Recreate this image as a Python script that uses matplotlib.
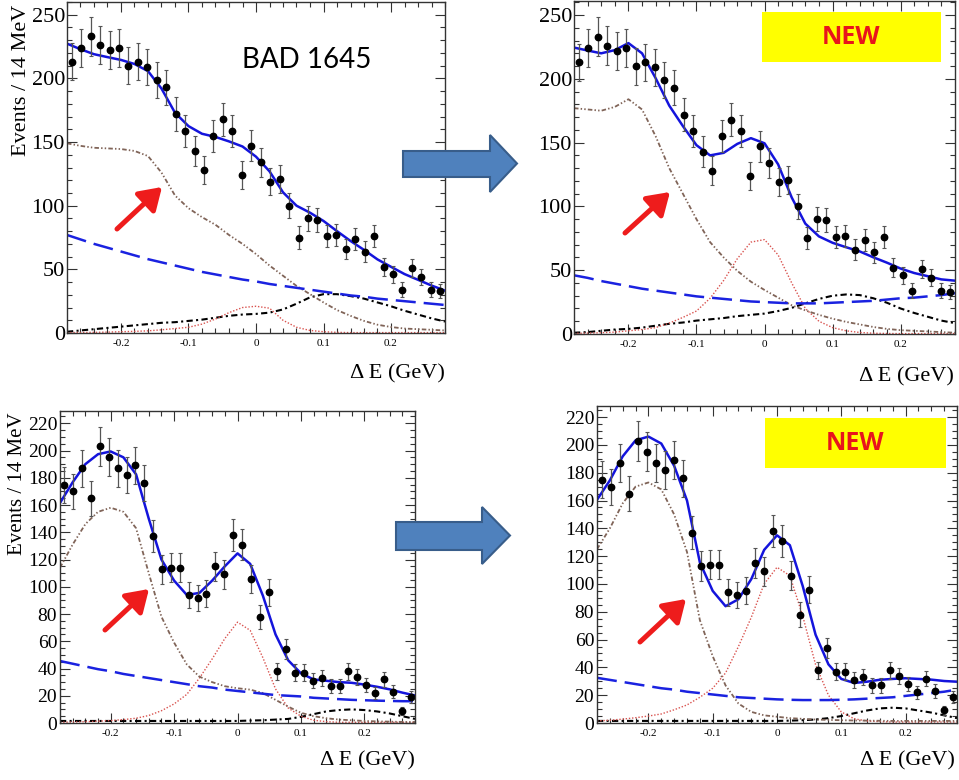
"""Delta E fit comparison: old vs new fit for the top and bottom samples."""

import matplotlib
matplotlib.use("Agg")
import matplotlib.pyplot as plt
import numpy as np
from matplotlib.patches import Polygon, Rectangle
from matplotlib.ticker import FuncFormatter, MultipleLocator

# --- data -------------------------------------------------------------------
# 40 bins of 14 MeV between -0.28 and 0.28 GeV
bin_centers = np.arange(-0.273, 0.28, 0.014)
# fit components are read every 20 MeV
curve_x = np.linspace(-0.28, 0.28, 29)

top_counts = [213, 224, 233, 226, 222, 224, 210, 213, 209, 199, 193, 172, 159, 143,
              128, 155, 168, 159, 124, 147, 134, 119, 121, 100, 75, 90, 89, 76, 77,
              66, 74, 64, 76, 52, 46, 34, 51, 44, 34, 33]
bottom_counts = [175, 170, 187, 165, 203, 195, 187, 182, 189, 176, 137, 113, 114, 114,
                 94, 92, 95, 115, 109, 138, 131, 106, 78, 96, 38, 54, 37, 37, 31, 33,
                 27, 27, 38, 34, 28, 22, 32, 23, 9, 19]

# top-left (BAD 1645)
tl_continuum = [77, 73.5, 70, 67, 64, 61, 58, 55.5, 53, 50.5, 48, 46, 44, 42, 40.5, 38.5,
                37, 35.5, 34, 32.5, 31, 29.5, 28.5, 27, 26, 25, 24, 23, 22]
tl_feed = [149, 147, 145.5, 145, 144.5, 143, 139, 126, 108, 98, 91, 85, 77, 70, 62, 53,
           45, 37, 30.5, 24, 18, 13.5, 9.5, 6.5, 4.7, 3.5, 3, 2.5, 2]
tl_signal = [0.3, 0.4, 0.5, 0.7, 1, 1.3, 1.7, 2.5, 3.5, 4.5, 7, 11, 16, 20, 21, 19.5, 10,
             4.5, 2, 1, 0.5, 0.3, 0.3, 0.3, 0.3, 0.3, 0.3, 0.3, 0.3]
tl_other = [1, 2, 3, 4, 5, 6, 7, 8, 8.5, 9.5, 10.5, 12, 13.5, 14.5, 15, 16, 18.5, 23, 28,
            30.5, 30.5, 29, 27, 24, 21, 17.5, 14.5, 11.5, 9]

# top-right (new)
tr_continuum = [46, 44, 41.5, 39.5, 37.5, 35.5, 34, 32.5, 31, 29.5, 28.5, 27.5, 26.5,
                25.5, 25, 24.5, 24, 24, 24, 24.5, 25, 25.5, 26, 27, 28, 28.5, 29.5, 30.5, 32]
tr_feed = [177, 176, 175, 178, 184, 176, 155, 130, 110, 90, 72, 60, 49.5, 41, 34.5, 28.5,
           22.5, 18.5, 15, 12, 9.5, 7.5, 5.5, 4, 3, 2.5, 2, 1.5, 1]
tr_signal = [0.5, 0.7, 1, 1.5, 2.5, 3.5, 5, 8.5, 13, 18, 28, 42, 59, 72, 74, 62, 40, 20,
             10, 5, 2.5, 1.2, 0.6, 0.4, 0.3, 0.3, 0.3, 0.3, 0.3]
tr_other = [1, 1.5, 2.5, 3.5, 4, 5, 6.5, 8, 9, 10.5, 11.5, 12.5, 14, 15, 16, 18, 20.5, 24,
            27.5, 30, 31, 30.5, 28, 24.5, 20, 16.5, 13.5, 10.5, 8.5]

# bottom-left
bl_continuum = [45.5, 43.5, 41.5, 39.5, 38, 36, 34.5, 33, 31.5, 30, 28.5, 27, 26, 24.5,
                23.5, 22.5, 21.5, 20.5, 20, 19.5, 18.5, 18, 17.5, 17, 16.7, 16.4, 16.2, 16, 16]
bl_feed = [114, 131, 146, 155, 158, 155, 143, 110, 78, 59, 43, 34, 30, 27, 25.5, 24.5,
           22, 17, 12, 7.5, 5, 3.5, 2.5, 2, 1.5, 1.2, 1, 0.8, 0.7]
bl_signal = [0.5, 0.7, 1, 1.3, 1.8, 2.5, 3.5, 5.5, 9, 14, 21, 33, 47, 62, 74, 68, 48, 25,
             11, 5, 2, 1, 0.5, 0.5, 0.5, 0.5, 0.5, 0.5, 0.5]
bl_other = [1.5, 1.5, 1.5, 1.5, 1.5, 1.5, 1.5, 1.5, 1.5, 1.5, 1.5, 1.5, 1.5, 1.5, 1.5,
            1.8, 2, 2.5, 3, 4.5, 6.5, 8.5, 9.5, 10, 9.5, 8.5, 7, 5, 3]

# bottom-right (new)
br_continuum = [32.5, 31, 29.5, 28, 26.5, 25, 24, 22.5, 21.5, 20.5, 19.5, 18.5, 18, 17.5,
                17, 16.7, 16.5, 16.5, 16.5, 16.7, 17, 17.5, 18, 18.5, 19.5, 20.5, 21.5, 22.5, 24]
br_feed = [125, 140, 158, 170, 173, 168, 150, 123, 74, 48, 27, 14, 8, 5.5, 4.5, 3.5, 3,
           2.5, 2.2, 2, 1.8, 1.7, 1.6, 1.5, 1.5, 1.5, 1.5, 1.5, 1.5]
br_signal = [1.5, 2, 2.8, 3.8, 5, 6.5, 9.5, 13, 18.5, 25, 36, 55, 76, 100, 112, 106, 77,
             42, 20, 8, 3, 1.5, 1, 0.7, 0.7, 0.7, 0.7, 0.7, 0.7]
br_other = [1.5, 1.5, 1.5, 1.5, 1.5, 1.5, 1.5, 1.5, 1.5, 1.5, 1.5, 1.5, 1.5, 1.5, 1.5,
            1.7, 2, 2.5, 3.5, 5, 7, 9, 10.5, 11, 10.5, 9, 7.5, 5.5, 3.5]

# --- style ------------------------------------------------------------------
W, H = 959, 780
SERIF = ["Liberation Serif", "DejaVu Serif"]
plt.rcParams.update({"axes.unicode_minus": False, "font.family": SERIF})

fig = plt.figure(figsize=(W / 100, H / 100), dpi=100, facecolor="white")


def px_axes(left, top, right, bottom):
    return fig.add_axes([left / W, 1 - bottom / H, (right - left) / W, (bottom - top) / H])


def draw_panel(ax, counts, cont, feed, sig, other, ymax, ymajor, yminor, ylab_size, ypad):
    cont, feed, sig, other = map(np.asarray, (cont, feed, sig, other))
    total = cont + feed + sig + other
    ax.plot(curve_x, other, color="black", lw=1.5, dashes=(3, 1.6, 1, 1.6))
    ax.plot(curve_x, sig, color="#d9534f", lw=1.0, dashes=(1, 1.3))
    ax.plot(curve_x, feed, color="#806458", lw=1.3, dashes=(2.5, 1.2, 0.8, 1.2, 0.8, 1.2))
    ax.plot(curve_x, cont, color="#1a22e0", lw=1.8, dashes=(8, 3.2))
    ax.plot(curve_x, total, color="#1414dc", lw=1.8)
    counts = np.asarray(counts, dtype=float)
    ax.errorbar(bin_centers, counts, yerr=np.sqrt(counts), fmt="o", color="black",
                ms=4.6, ecolor="#555555", elinewidth=0.9, capsize=1.2, capthick=0.8)
    ax.set_xlim(-0.28, 0.28)
    ax.set_ylim(0, ymax)
    ax.xaxis.set_major_locator(MultipleLocator(0.1))
    ax.xaxis.set_minor_locator(MultipleLocator(0.02))
    ax.yaxis.set_major_locator(MultipleLocator(ymajor))
    ax.yaxis.set_minor_locator(MultipleLocator(yminor))
    ax.xaxis.set_major_formatter(FuncFormatter(lambda v, _: f"{round(v, 2):g}"))
    ax.tick_params(which="both", direction="in", top=True, right=True, color="#333333", width=0.8)
    ax.tick_params(which="major", length=7)
    ax.tick_params(which="minor", length=3.5)
    ax.tick_params(axis="x", labelsize=8, pad=4)
    ax.tick_params(axis="y", labelsize=ylab_size, pad=ypad)
    for lab in ax.get_xticklabels() + ax.get_yticklabels():
        lab.set_family(SERIF)
    for s in ax.spines.values():
        s.set_color("#333333")
        s.set_linewidth(1.0)


ax1 = px_axes(67, 2, 445, 333)
draw_panel(ax1, top_counts, tl_continuum, tl_feed, tl_signal, tl_other, 260, 50, 10, 16, 1.5)
ax2 = px_axes(574, 1, 955, 334)
draw_panel(ax2, top_counts, tr_continuum, tr_feed, tr_signal, tr_other, 261, 50, 10, 16, 1.5)
ax3 = px_axes(60, 411, 415, 723)
draw_panel(ax3, bottom_counts, bl_continuum, bl_feed, bl_signal, bl_other, 229, 20, 5, 14, 2)
ax4 = px_axes(597, 406, 957, 723)
draw_panel(ax4, bottom_counts, br_continuum, br_feed, br_signal, br_other, 228, 20, 5, 14, 2)

# --- overlay: labels, boxes and arrows in pixel coordinates --------------------
ov = fig.add_axes([0, 0, 1, 1], zorder=10)
ov.set_xlim(0, W)
ov.set_ylim(H, 0)
ov.axis("off")
ov.patch.set_alpha(0)

for x, y, size in [(22, 80, 16), (18, 484, 15)]:
    ov.text(x, y, "Events / 14 MeV", rotation=90, ha="center", va="center", fontsize=size,
            family=SERIF)
for x, y in [(445, 374), (954, 377), (415, 761), (955, 761)]:
    ov.text(x, y, "Δ E (GeV)", ha="right", va="center", fontsize=16, family=SERIF)

ov.text(307, 60, "BAD 1645", ha="center", va="center", fontsize=20, family="Lato")

for x0, y0, x1, y1 in [(762, 12, 941, 62), (765, 418, 946, 468)]:
    ov.add_patch(Rectangle((x0, y0), x1 - x0, y1 - y0, facecolor="#ffff00", edgecolor="none"))
    ov.text((x0 + x1) / 2, (y0 + y1) / 2 + 1, "NEW", ha="center", va="center", fontsize=18,
            fontweight="bold", color="#e8141c", family="Open Sans")

for sx0, sy0, sx1, sy1, hy0, hy1, tip in [(403, 151, 490, 177, 135, 192, 517),
                                          (396, 522, 482, 550, 507, 564, 510)]:
    cy = (hy0 + hy1) / 2
    pts = [(sx0, sy0), (sx1, sy0), (sx1, hy0), (tip, cy), (sx1, hy1), (sx1, sy1), (sx0, sy1)]
    ov.add_patch(Polygon(pts, closed=True, facecolor="#4f81bd", edgecolor="#385d8a", lw=1.5))

for tail, head in [((117, 229), (162, 187)), ((625, 233), (670, 192)),
                   ((105, 630), (149, 589)), ((640, 642), (686, 599))]:
    ov.annotate("", xy=head, xytext=tail,
                arrowprops=dict(arrowstyle="-|>,head_length=0.65,head_width=0.42",
                                mutation_scale=20, lw=3.6, color="#ee1c1c",
                                shrinkA=0, shrinkB=0, capstyle="round"))

fig.savefig("out.png", dpi=100, facecolor="white")
plt.close(fig)
